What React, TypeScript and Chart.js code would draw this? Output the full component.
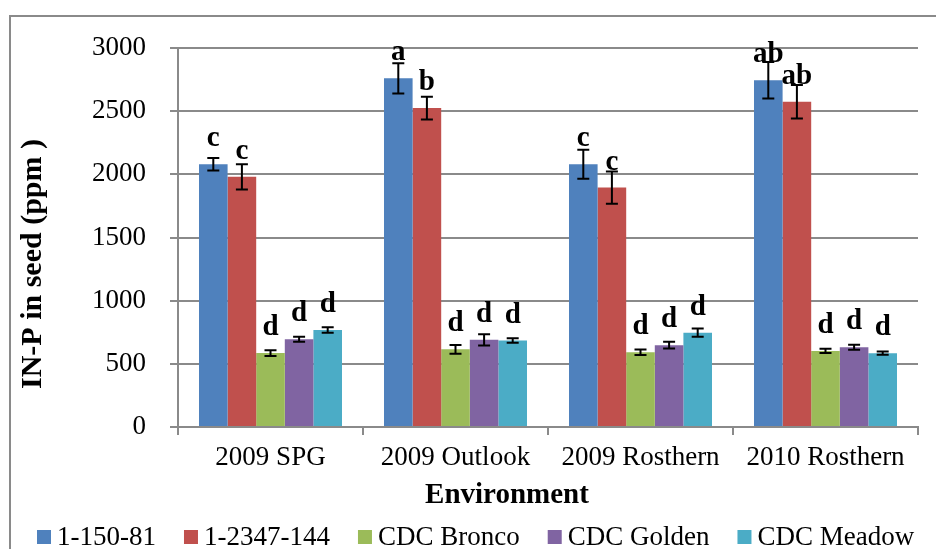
import React, { useEffect, useRef } from 'react';
import { Chart, registerables } from 'chart.js';

Chart.register(...registerables);

const environments = ['2009 SPG', '2009 Outlook', '2009 Rosthern', '2010 Rosthern'];
const seriesNames = ['1-150-81', '1-2347-144', 'CDC Bronco', 'CDC Golden', 'CDC Meadow'];
const seriesColors = ['#4F81BD', '#C0504D', '#9BBB59', '#8064A2', '#4BACC6'];

const values15081 = [2080, 2760, 2080, 2745];
const values2347144 = [1980, 2525, 1895, 2575];
const valuesBronco = [585, 615, 592, 602];
const valuesGolden = [694, 690, 648, 632];
const valuesMeadow = [768, 684, 747, 584];

const errors15081 = [50, 120, 115, 145];
const errors2347144 = [100, 90, 128, 133];
const errorsBronco = [23, 35, 22, 17];
const errorsGolden = [20, 45, 27, 20];
const errorsMeadow = [22, 18, 32, 13];

const letters15081 = ['c', 'a', 'c', 'ab'];
const letters2347144 = ['c', 'b', 'c', 'ab'];
const lettersBronco = ['d', 'd', 'd', 'd'];
const lettersGolden = ['d', 'd', 'd', 'd'];
const lettersMeadow = ['d', 'd', 'd', 'd'];

const yMin = 0;
const yMax = 3000;
const yStep = 500;

const yTitle = 'IN-P in seed (ppm )';
const xTitle = 'Environment';

const allValues = [values15081, values2347144, valuesBronco, valuesGolden, valuesMeadow];
const allErrors = [errors15081, errors2347144, errorsBronco, errorsGolden, errorsMeadow];
const allLetters = [letters15081, letters2347144, lettersBronco, lettersGolden, lettersMeadow];

const SERIF = '"Liberation Serif", "Times New Roman", serif';
const GRID = '#8a8a8a';

const framePlugin = {
  id: 'frame',
  beforeDraw(chart: any) {
    const ctx = chart.ctx;
    ctx.save();
    ctx.fillStyle = '#ffffff';
    ctx.fillRect(0, 0, chart.width, chart.height);
    ctx.strokeStyle = GRID;
    ctx.lineWidth = 2;
    ctx.strokeRect(10, 16, chart.width + 100, chart.height + 100);
    ctx.restore();
  },
};

const errorLetterPlugin = {
  id: 'errorLetters',
  afterDatasetsDraw(chart: any) {
    const ctx = chart.ctx;
    const yScale = chart.scales.y;
    ctx.save();
    chart.data.datasets.forEach((ds: any, i: number) => {
      const meta = chart.getDatasetMeta(i);
      meta.data.forEach((el: any, j: number) => {
        const v = ds.data[j];
        const e = allErrors[i][j];
        const x = el.x;
        const yt = yScale.getPixelForValue(v + e);
        const yb = yScale.getPixelForValue(v - e);
        ctx.strokeStyle = '#000000';
        ctx.lineWidth = 2;
        ctx.beginPath();
        ctx.moveTo(x, yt);
        ctx.lineTo(x, yb);
        ctx.moveTo(x - 6, yt);
        ctx.lineTo(x + 6, yt);
        ctx.moveTo(x - 6, yb);
        ctx.lineTo(x + 6, yb);
        ctx.stroke();
        ctx.fillStyle = '#000000';
        ctx.font = `bold 29px ${SERIF}`;
        ctx.textAlign = 'center';
        ctx.textBaseline = 'alphabetic';
        ctx.fillText(allLetters[i][j], x, yScale.getPixelForValue(v) - 18);
      });
    });
    ctx.restore();
  },
};

const titlesLegendPlugin = {
  id: 'titlesLegend',
  afterDraw(chart: any) {
    const ctx = chart.ctx;
    ctx.save();
    ctx.fillStyle = '#000000';
    // y title
    ctx.font = `bold 30px ${SERIF}`;
    ctx.textAlign = 'center';
    ctx.textBaseline = 'middle';
    ctx.translate(33, 264);
    ctx.rotate(-Math.PI / 2);
    ctx.fillText(yTitle, 0, 0);
    ctx.setTransform(1, 0, 0, 1, 0, 0);
    // x title
    ctx.font = `bold 29px ${SERIF}`;
    ctx.textAlign = 'center';
    ctx.textBaseline = 'alphabetic';
    ctx.fillText(xTitle, 507, 503);
    // legend
    ctx.font = `27px ${SERIF}`;
    ctx.textAlign = 'left';
    ctx.textBaseline = 'middle';
    let x = 37;
    const cy = 537;
    chart.data.datasets.forEach((ds: any) => {
      ctx.fillStyle = ds.backgroundColor;
      ctx.fillRect(x, cy - 7, 14, 14);
      ctx.fillStyle = '#000000';
      ctx.fillText(ds.label, x + 20, cy + 1);
      x += 20 + ctx.measureText(ds.label).width + 28;
    });
    ctx.restore();
  },
};

export default function App() {
  const canvasRef = useRef<HTMLCanvasElement | null>(null);

  useEffect(() => {
    document.body.style.margin = '0';
    const canvas = canvasRef.current;
    if (!canvas) return;
    const chart = new Chart(canvas, {
      type: 'bar',
      data: {
        labels: environments,
        datasets: seriesNames.map((name, i) => ({
          label: name,
          data: allValues[i],
          backgroundColor: seriesColors[i],
          borderWidth: 0,
          categoryPercentage: 0.773,
          barPercentage: 1,
        })),
      },
      options: {
        animation: false,
        responsive: false,
        devicePixelRatio: 1,
        layout: { padding: { top: 48, right: 18, bottom: 38, left: 0 } },
        plugins: {
          legend: { display: false },
          tooltip: { enabled: false },
          title: { display: false },
        },
        scales: {
          x: {
            offset: true,
            grid: {
              offset: true,
              drawOnChartArea: false,
              drawTicks: true,
              tickLength: 8,
              color: GRID,
              lineWidth: 2,
            },
            border: { display: true, color: GRID, width: 2 },
            ticks: {
              font: { family: SERIF, size: 27 },
              color: '#000000',
              padding: 7,
              maxRotation: 0,
              autoSkip: false,
            },
            afterFit(scale: any) {
              scale.height = 84;
            },
          },
          y: {
            min: yMin,
            max: yMax,
            grid: {
              drawOnChartArea: true,
              drawTicks: true,
              tickLength: 8,
              color: GRID,
              lineWidth: 2,
            },
            border: { display: true, color: GRID, width: 2 },
            ticks: {
              stepSize: yStep,
              font: { family: SERIF, size: 27 },
              color: '#000000',
              padding: 24,
              callback: (v: any) => String(v),
            },
            afterFit(scale: any) {
              scale.width = 178;
            },
          },
        },
      },
      plugins: [framePlugin, errorLetterPlugin, titlesLegendPlugin],
    } as any);
    return () => chart.destroy();
  }, []);

  return (
    <div style={{ width: 936, height: 549, position: 'relative' }}>
      <canvas ref={canvasRef} width={936} height={549} style={{ width: 936, height: 549, display: 'block' }} />
    </div>
  );
}
